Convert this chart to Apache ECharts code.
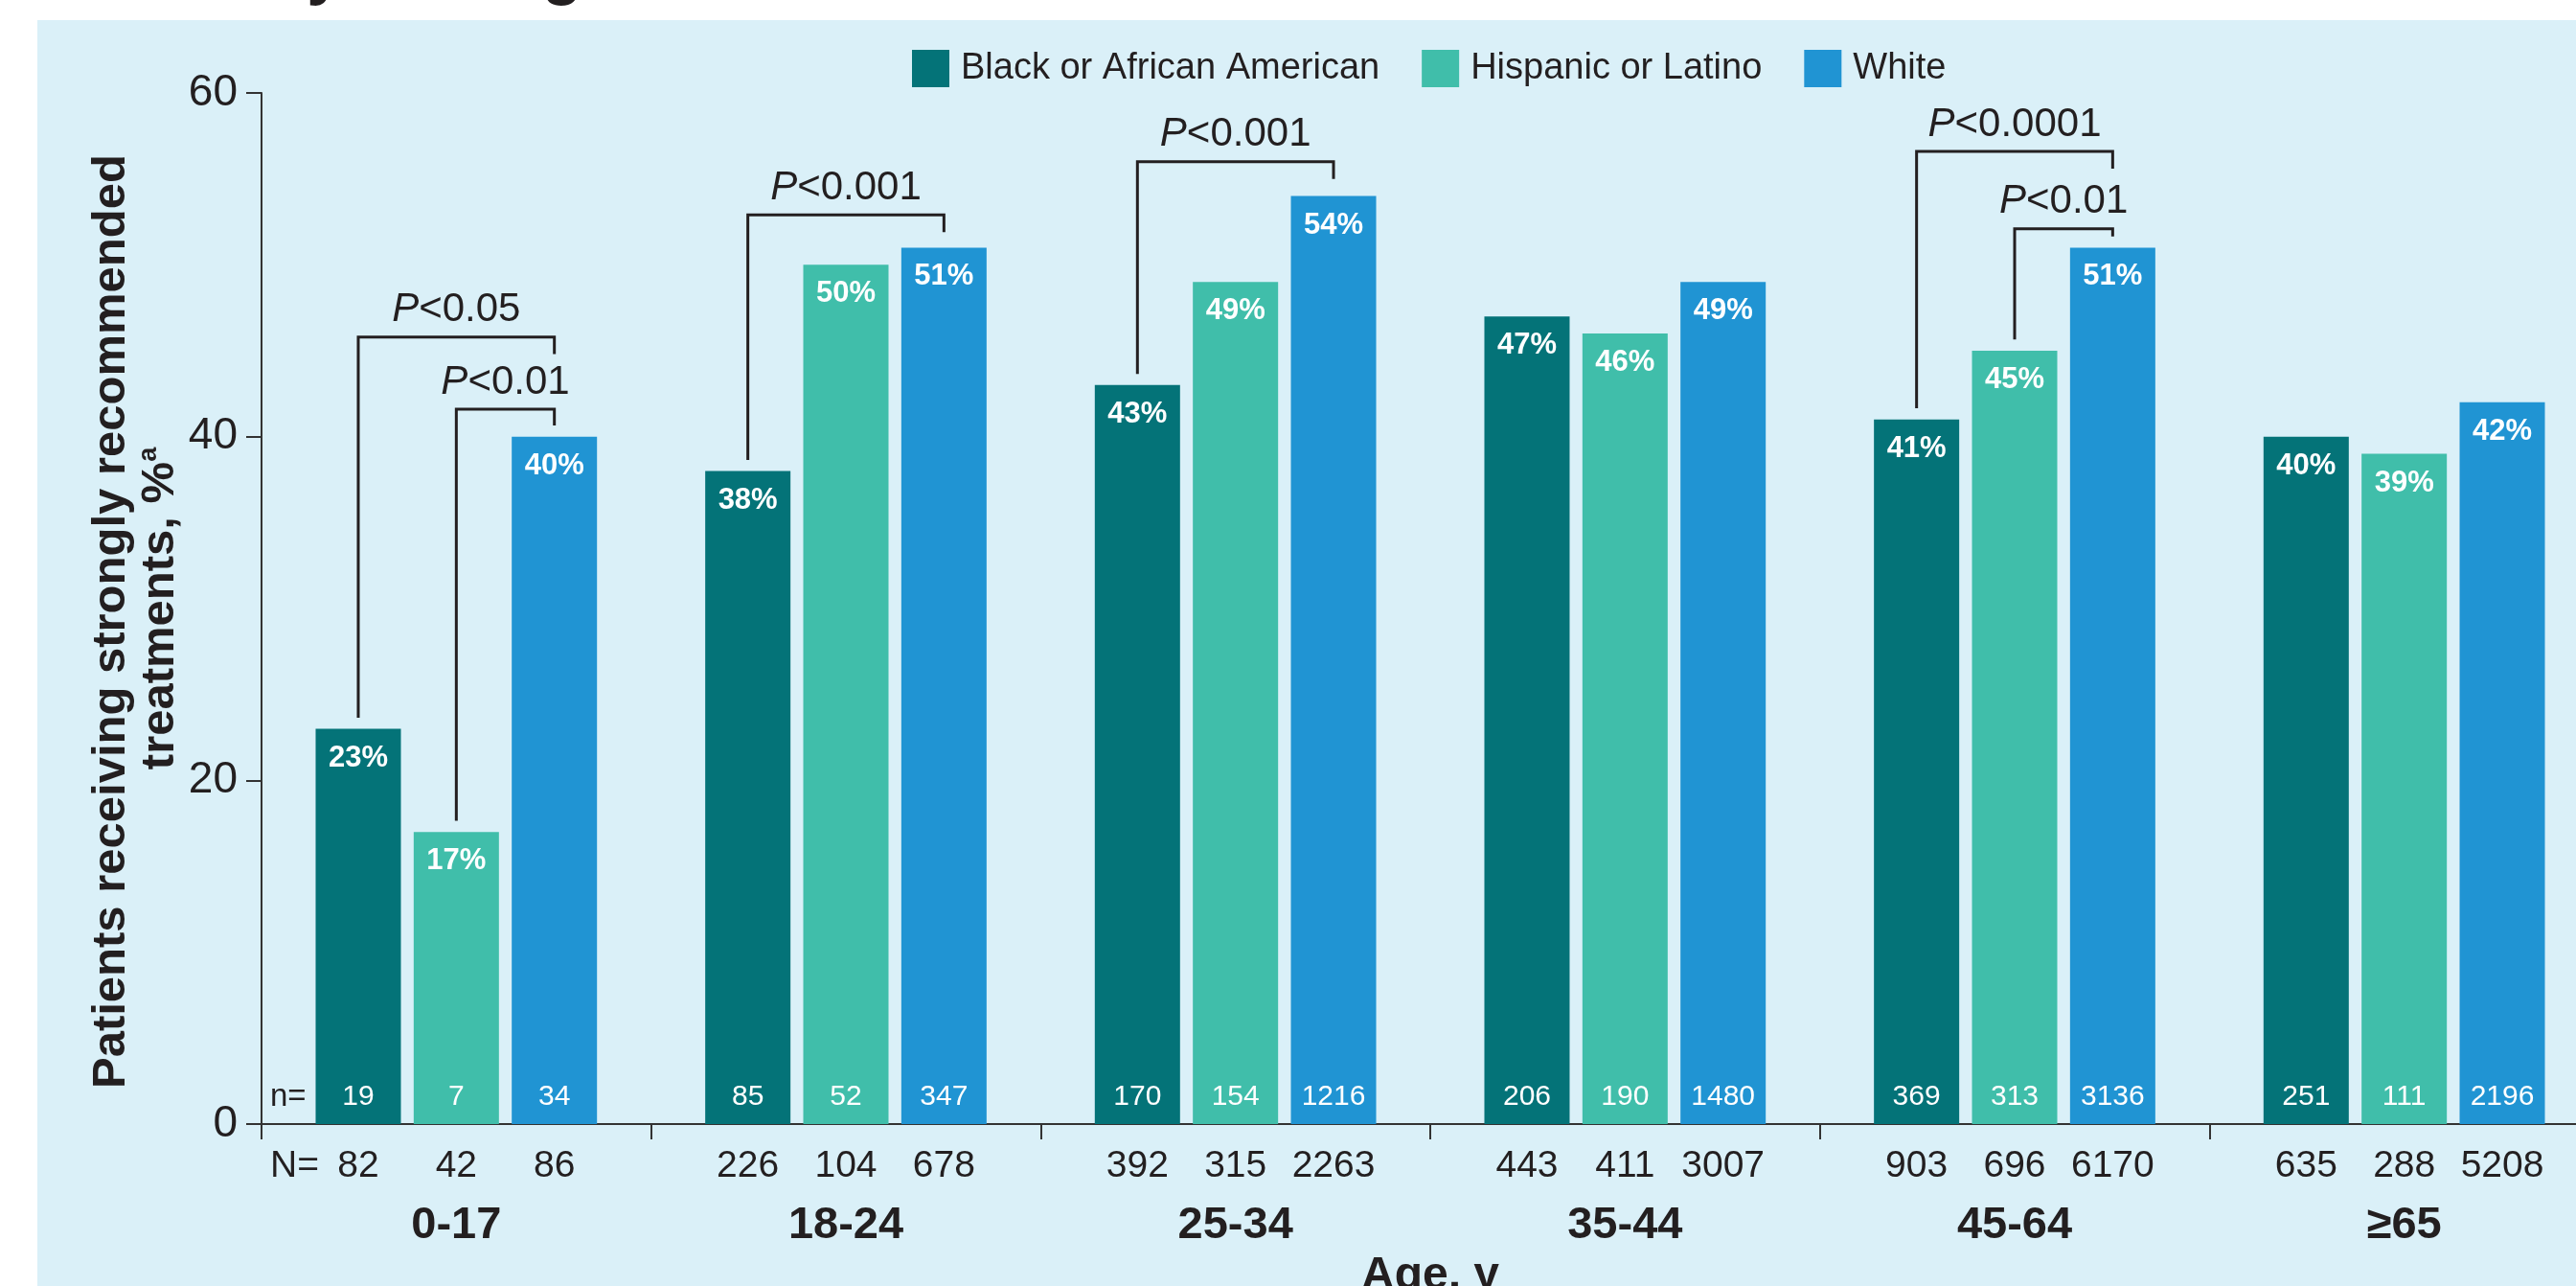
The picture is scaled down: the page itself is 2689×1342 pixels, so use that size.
<!DOCTYPE html>
<html>
<head>
<meta charset="utf-8">
<title>Strongly recommended treatments by race, ethnicity and age</title>
<script src="https://cdn.jsdelivr.net/npm/echarts@6/dist/echarts.min.js"></script>
<style>
  html, body { margin: 0; padding: 0; background: #ffffff; }
  #chart { width: 2689px; height: 1342px; }
</style>
</head>
<body>
<div id="chart"></div>
<script>
// Age groups on the category axis
const ageGroups = ['0-17', '18-24', '25-34', '35-44', '45-64', '\u226565'];
const groupNames = ['Black or African American', 'Hispanic or Latino', 'White'];

// Share of patients receiving strongly recommended treatments (%)
const blackPct = [23, 38, 43, 47, 41, 40];
const hispanicPct = [17, 50, 49, 46, 45, 39];
const whitePct = [40, 51, 54, 49, 51, 42];

// Patients receiving the treatments (n)
const blackTreated = [19, 85, 170, 206, 369, 251];
const hispanicTreated = [7, 52, 154, 190, 313, 111];
const whiteTreated = [34, 347, 1216, 1480, 3136, 2196];

// All patients in each group (N)
const blackTotal = [82, 226, 392, 443, 903, 635];
const hispanicTotal = [42, 104, 315, 411, 696, 288];
const whiteTotal = [86, 678, 2263, 3007, 6170, 5208];

// Value axis
const yMin = 0, yMax = 60, yStep = 20;

// Pairwise comparisons: age group, first and second bar, bracket height (%), p value
const cmpGroup = [0, 0, 1, 2, 4, 4];
const cmpFrom = [0, 1, 0, 0, 0, 1];
const cmpTo = [2, 2, 2, 2, 2, 2];
const cmpLevel = [45.8, 41.6, 52.9, 56.0, 56.6, 52.1];
const cmpP = ['<0.05', '<0.01', '<0.001', '<0.001', '<0.0001', '<0.01'];

const pctByGroup = [blackPct, hispanicPct, whitePct];
const treatedByGroup = [blackTreated, hispanicTreated, whiteTreated];
const totalByGroup = [blackTotal, hispanicTotal, whiteTotal];
const colors = ['#047378', '#40BEAA', '#2094D3'];

const INK = '#231F20';
const FONT = '"Liberation Sans", Arial, Helvetica, sans-serif';
const BAR_W = 89;
const BAR_GAP = 0.15;
const BAR_STEP = BAR_W * (1 + BAR_GAP);

const chart = echarts.init(document.getElementById('chart'), null, { renderer: 'canvas' });

const barSeries = groupNames.map((name, k) => ({
  name: name,
  type: 'bar',
  data: pctByGroup[k],
  barWidth: BAR_W,
  barGap: (BAR_GAP * 100) + '%',
  itemStyle: { color: colors[k] },
  label: {
    show: true,
    position: 'insideTop',
    distance: 15,
    formatter: '{c}%',
    color: '#ffffff',
    fontFamily: FONT,
    fontWeight: 'bold',
    fontSize: 31
  },
  z: 2
}));

// n (inside bar foot) and N (under the axis) counts for every bar
const countData = [];
ageGroups.forEach((g, c) => {
  for (let k = 0; k < 3; k++) countData.push([c, 0, k, treatedByGroup[k][c], totalByGroup[k][c]]);
});

const countSeries = {
  type: 'custom',
  silent: true,
  clip: false,
  z: 5,
  encode: { x: 0, y: 1 },
  data: countData,
  renderItem: function (params, api) {
    const base = api.coord([api.value(0), 0]);
    const x = base[0] + (api.value(2) - 1) * BAR_STEP;
    return {
      type: 'group',
      children: [
        {
          type: 'text',
          style: {
            text: String(api.value(3)), x: x, y: base[1] - 28.5,
            align: 'center', verticalAlign: 'middle',
            fill: '#ffffff', fontFamily: FONT, fontSize: 30
          }
        },
        {
          type: 'text',
          style: {
            text: String(api.value(4)), x: x, y: base[1] + 44.5,
            align: 'center', verticalAlign: 'middle',
            fill: INK, fontFamily: FONT, fontSize: 39
          }
        }
      ]
    };
  }
};

// Significance brackets between bars of the same age group
const bracketData = cmpGroup.map((c, i) => [c, cmpLevel[i], i]);
const bracketSeries = {
  type: 'custom',
  silent: true,
  clip: false,
  z: 6,
  encode: { x: 0, y: 1 },
  data: bracketData,
  renderItem: function (params, api) {
    const i = api.value(2);
    const c = cmpGroup[i];
    const a = cmpFrom[i], b = cmpTo[i];
    const level = cmpLevel[i];
    const top = api.coord([c, level]);
    const xa = top[0] + (a - 1) * BAR_STEP;
    const xb = top[0] + (b - 1) * BAR_STEP;
    const footA = api.coord([c, pctByGroup[a][c] + 0.65])[1];
    const footB = api.coord([c, Math.max(pctByGroup[b][c] + 0.65, level - 1.0)])[1];
    return {
      type: 'group',
      children: [
        {
          type: 'polyline',
          shape: { points: [[xa, footA], [xa, top[1]], [xb, top[1]], [xb, footB]] },
          style: { stroke: INK, lineWidth: 3, fill: null }
        },
        {
          type: 'text',
          style: {
            text: '{i|P}{r|' + cmpP[i] + '}',
            x: (xa + xb) / 2, y: top[1] - 28,
            align: 'center', verticalAlign: 'middle',
            rich: {
              i: { fontFamily: FONT, fontSize: 42, fontStyle: 'italic', fill: INK },
              r: { fontFamily: FONT, fontSize: 42, fill: INK }
            }
          }
        }
      ]
    };
  }
};

const option = {
  animation: false,
  backgroundColor: '#ffffff',
  graphic: [
    {
      type: 'rect', z: -10, silent: true,
      shape: { x: 39, y: 21, width: 2689 - 39, height: 1342 - 21 },
      style: { fill: '#DAF0F8' }
    },
    {
      type: 'text', z: 10, silent: true,
      style: {
        text: 'Ethnicity and Age', x: 71, y: -27,
        verticalAlign: 'middle', fill: INK,
        fontFamily: FONT, fontWeight: 'bold', fontSize: 68
      }
    },
    {
      type: 'text', z: 10, silent: true,
      style: {
        text: 'n=', x: 282, y: 1173 - 28.5, verticalAlign: 'middle',
        fill: INK, fontFamily: FONT, fontSize: 33
      }
    },
    {
      type: 'text', z: 10, silent: true,
      style: {
        text: 'N=', x: 282, y: 1173 + 44.5, verticalAlign: 'middle',
        fill: INK, fontFamily: FONT, fontSize: 39
      }
    }
  ],
  legend: {
    data: groupNames,
    left: 947,
    top: 47,
    itemWidth: 39,
    itemHeight: 39,
    itemGap: 44,
    icon: 'rect',
    textStyle: { color: INK, fontFamily: FONT, fontSize: 38, padding: [0, 0, 0, 7] }
  },
  grid: { left: 273, right: -24, top: 97, bottom: 169, containLabel: false, outerBoundsMode: 'none' },
  xAxis: {
    type: 'category',
    data: ageGroups,
    name: 'Age, y',
    nameLocation: 'middle',
    nameGap: 135,
    nameTextStyle: { color: INK, fontFamily: FONT, fontWeight: 'bold', fontSize: 48 },
    axisLine: { show: true, lineStyle: { color: '#333333', width: 2 } },
    axisTick: { show: true, length: 16, interval: 0, lineStyle: { color: '#333333', width: 2 } },
    axisLabel: {
      interval: 0, margin: 83,
      color: INK, fontFamily: FONT, fontWeight: 'bold', fontSize: 47
    },
    splitLine: { show: false }
  },
  yAxis: {
    type: 'value',
    min: yMin, max: yMax, interval: yStep,
    name: 'Patients receiving strongly recommended  \ntreatments, %{sup|a}',
    nameLocation: 'middle',
    nameGap: 80,
    nameMoveOverlap: false,
    nameRotate: 90,
    nameTextStyle: {
      color: INK, fontFamily: FONT, fontWeight: 'bold', fontSize: 49, lineHeight: 51,
      align: 'center',
      rich: {
        sup: { color: INK, fontFamily: FONT, fontWeight: 'bold', fontSize: 27, lineHeight: 51, verticalAlign: 'top' }
      }
    },
    axisLine: { show: true, lineStyle: { color: '#333333', width: 2 } },
    axisTick: { show: true, length: 16, lineStyle: { color: '#333333', width: 2 } },
    axisLabel: { margin: 25, color: INK, fontFamily: FONT, fontSize: 46 },
    splitLine: { show: false }
  },
  series: barSeries.concat([countSeries, bracketSeries])
};

chart.setOption(option);
</script>
</body>
</html>
